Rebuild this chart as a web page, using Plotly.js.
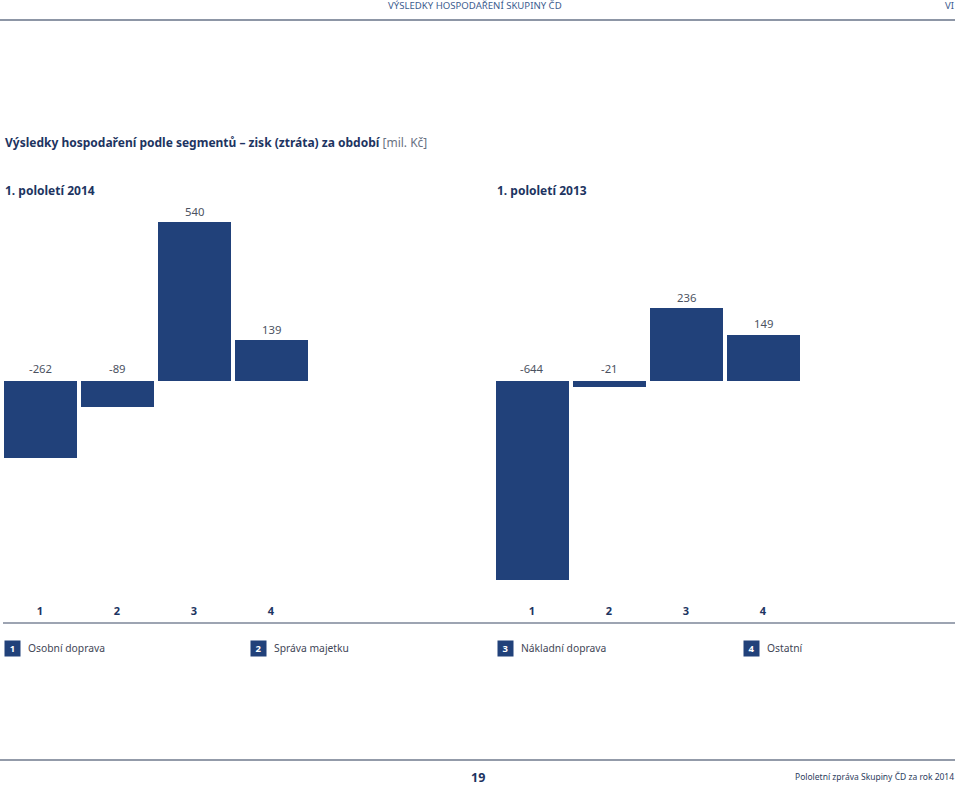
<!DOCTYPE html>
<html><head><meta charset="utf-8">
<script src="https://cdn.plot.ly/plotly-3.0.1.min.js"></script>
<style>html,body{margin:0;padding:0;background:#fff}#chart{width:960px;height:786px}</style>
</head><body><div id="chart"></div>
<script>
const segments = ['1', '2', '3', '4'];
const segmentNames = ['Osobní doprava', 'Správa majetku', 'Nákladní doprava', 'Ostatní'];
const values2014 = [-262, -89, 540, 139];
const values2013 = [-644, -21, 236, 149];
const periodLabels = ['1. pololetí 2014', '1. pololetí 2013'];
const headerText = 'VÝSLEDKY HOSPODAŘENÍ SKUPINY ČD';
const chapterText = 'VI';
const titleMain = 'Výsledky hospodaření podle segmentů – zisk (ztráta) za období';
const titleUnit = '[mil. Kč]';
const pageNumber = '19';
const footerText = 'Pololetní zpráva Skupiny ČD za rok 2014';

const W = 960, H = 786;
const px = x => x / W;
const py = y => 1 - y / H;
const NAVY = '#21417a';
const FONT = 'Noto Sans, Open Sans, sans-serif';

const traces = [
  {type: 'bar', x: segments, y: values2014, xaxis: 'x', yaxis: 'y', width: 0.948,
   marker: {color: NAVY}, hoverinfo: 'skip', showlegend: false},
  {type: 'bar', x: segments, y: values2013, xaxis: 'x2', yaxis: 'y2', width: 0.948,
   marker: {color: NAVY}, hoverinfo: 'skip', showlegend: false}
];

const annotations = [];
function valueLabels(vals, xr, yr) {
  vals.forEach((v, i) => {
    annotations.push({xref: xr, yref: yr, x: i, y: Math.max(v, 0), text: String(v),
      showarrow: false, yanchor: 'middle', yshift: v >= 0 ? 11 : 13,
      font: {family: FONT, size: 11.3, color: '#4b5261'}});
  });
}
valueLabels(values2014, 'x', 'y');
valueLabels(values2013, 'x2', 'y2');

// header
annotations.push({xref: 'paper', yref: 'paper', x: px(386), y: py(5), xanchor: 'left', yanchor: 'middle',
  text: headerText, showarrow: false, font: {family: FONT, size: 9.6, color: '#3d5d8f'}});
annotations.push({xref: 'paper', yref: 'paper', x: px(956), y: py(5), xanchor: 'right', yanchor: 'middle',
  text: chapterText, showarrow: false, font: {family: FONT, size: 9.6, color: '#3d5d8f'}});
// title
annotations.push({xref: 'paper', yref: 'paper', x: px(3), y: py(142), xanchor: 'left', yanchor: 'middle',
  text: '<b>' + titleMain + '</b> <span style="color:#6a7282">' + titleUnit + '</span>', showarrow: false,
  font: {family: FONT, size: 12, color: '#1d3461'}});
// period subtitles
[3, 495].forEach((x, i) => annotations.push({xref: 'paper', yref: 'paper', x: px(x), y: py(190),
  xanchor: 'left', yanchor: 'middle', text: '<b>' + periodLabels[i] + '</b>', showarrow: false,
  font: {family: FONT, size: 12, color: '#1d3461'}}));
// legend
const legX = [4, 250, 497, 743];
segmentNames.forEach((name, i) => {
  annotations.push({xref: 'paper', yref: 'paper', x: px(legX[i]), y: py(648), xanchor: 'left', yanchor: 'middle',
    text: '<b>' + segments[i] + '</b>', showarrow: false, bgcolor: NAVY, width: 13, height: 13,
    borderpad: 1, font: {family: FONT, size: 9.5, color: '#ffffff'}});
  annotations.push({xref: 'paper', yref: 'paper', x: px(legX[i] + 22), y: py(648), xanchor: 'left', yanchor: 'middle',
    text: name, showarrow: false, font: {family: FONT, size: 10.3, color: '#3f4656'}});
});
// footer
annotations.push({xref: 'paper', yref: 'paper', x: px(478), y: py(777), xanchor: 'center', yanchor: 'middle',
  text: '<b>' + pageNumber + '</b>', showarrow: false, font: {family: FONT, size: 12.5, color: '#1d3461'}});
annotations.push({xref: 'paper', yref: 'paper', x: px(956), y: py(776), xanchor: 'right', yanchor: 'middle',
  text: footerText, showarrow: false, font: {family: FONT, size: 8.5, color: '#2d3d5e'}});

const shapes = [
  {type: 'line', xref: 'paper', yref: 'paper', x0: 0, x1: px(955), y0: py(20), y1: py(20),
   line: {color: '#8d96a6', width: 2}},
  {type: 'line', xref: 'paper', yref: 'paper', x0: px(3), x1: px(955), y0: py(623), y1: py(623),
   line: {color: '#7d8699', width: 1.5}},
  {type: 'line', xref: 'paper', yref: 'paper', x0: 0, x1: px(955), y0: py(760), y1: py(760),
   line: {color: '#6f7a8c', width: 1.5}}
];

const yTop = 200, yBot = 603, zeroY = 381;
const k1 = 0.2944, k2 = 0.309;
const axBase = {showgrid: false, zeroline: false, showline: false, ticks: '', fixedrange: true};

const layout = {
  width: W, height: H, margin: {l: 0, r: 0, t: 0, b: 0},
  paper_bgcolor: '#fff', plot_bgcolor: 'rgba(0,0,0,0)',
  font: {family: FONT},
  bargap: 0,
  xaxis: Object.assign({}, axBase, {domain: [px(1.5), px(309.5)], anchor: 'y', type: 'category',
    range: [-0.5, 3.5], tickfont: {family: FONT, size: 11, color: '#1d3461', weight: 'bold'}}),
  xaxis2: Object.assign({}, axBase, {domain: [px(493.5), px(801.5)], anchor: 'y2', type: 'category',
    range: [-0.5, 3.5], tickfont: {family: FONT, size: 11, color: '#1d3461', weight: 'bold'}}),
  yaxis: Object.assign({}, axBase, {domain: [py(yBot), py(yTop)], anchor: 'x', showticklabels: false,
    range: [-(yBot - zeroY) / k1, (zeroY - yTop) / k1]}),
  yaxis2: Object.assign({}, axBase, {domain: [py(yBot), py(yTop)], anchor: 'x2', showticklabels: false,
    range: [-(yBot - zeroY) / k2, (zeroY - yTop) / k2]}),
  annotations: annotations,
  shapes: shapes
};

Plotly.newPlot('chart', traces, layout, {staticPlot: true, displayModeBar: false});
</script>
</body></html>
